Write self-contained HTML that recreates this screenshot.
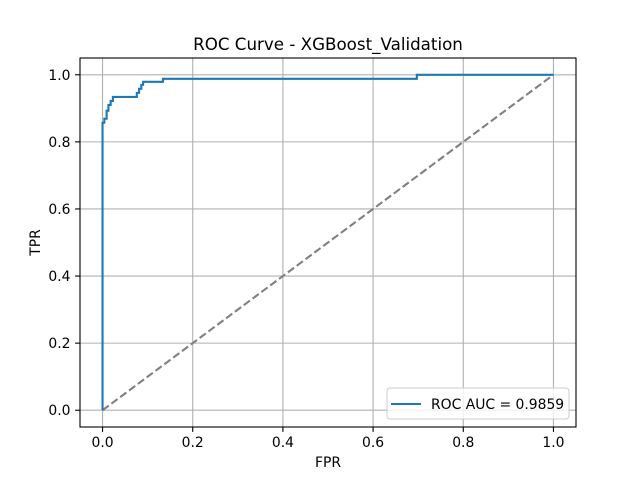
<!DOCTYPE html>
<html><head><meta charset="utf-8"><style>
body{margin:0;background:#fff}
svg{display:block;font-family:"DejaVu Sans","Liberation Sans",sans-serif}
</style></head><body>
<svg id="c" width="640" height="480" viewBox="0 0 640 480">
<rect width="640" height="480" fill="#fff"/>
<g id="grid"></g>
<g id="plot"></g>
<rect x="80" y="58" width="496" height="369" fill="none" stroke="#000" stroke-width="1.1"/>
<g id="ticks"></g>
<text x="328" y="50" font-size="16.7" text-anchor="middle">ROC Curve - XGBoost_Validation</text>
<text x="328" y="467" font-size="13.9" text-anchor="middle">FPR</text>
<text x="0" y="0" font-size="13.9" text-anchor="middle" transform="translate(40,242.5) rotate(-90)">TPR</text>
<g>
<rect x="387" y="388" width="182" height="31" rx="3" fill="#fff" fill-opacity="0.8" stroke="#ccc"/>
<line x1="391" y1="404" x2="421" y2="404" stroke="#1f77b4" stroke-width="2.1"/>
<text x="431" y="409" font-size="13.9">ROC AUC = 0.9859</text>
</g>
</svg>
<script>
const fpr=[0,0,0.004,0.004,0.009,0.009,0.013,0.013,0.018,0.018,0.023,0.023,0.076,0.076,0.081,0.081,0.086,0.086,0.09,0.09,0.134,0.134,0.697,0.697,1];
const tpr=[0,0.857,0.857,0.869,0.869,0.893,0.893,0.91,0.91,0.922,0.922,0.934,0.934,0.946,0.946,0.958,0.958,0.97,0.97,0.979,0.979,0.988,0.988,1,1];
const diagX=[0,1];
const diagY=[0,1];
const tickVals=[0,0.2,0.4,0.6,0.8,1.0];
const tickLabels=["0.0","0.2","0.4","0.6","0.8","1.0"];
const NS="http://www.w3.org/2000/svg";
const X=v=>80+(v+0.05)/1.1*496;
const Y=v=>427-(v+0.05)/1.1*369;
function mk(t,a,p){const e=document.createElementNS(NS,t);for(const k in a)e.setAttribute(k,a[k]);document.getElementById(p).appendChild(e);return e;}
tickVals.forEach((v,i)=>{
 let g=mk('line',{x1:X(v),x2:X(v),y1:58,y2:427,stroke:'#b0b0b0','stroke-width':1.1},'grid');
 
 
 g=mk('line',{x1:80,x2:576,y1:Y(v),y2:Y(v),stroke:'#b0b0b0','stroke-width':1.1},'grid');
 
 
 let t=mk('line',{x1:X(v),x2:X(v),y1:427,y2:431.9,stroke:'#000','stroke-width':1.1},'ticks');
 
 
 t=mk('line',{x1:75.1,x2:80,y1:Y(v),y2:Y(v),stroke:'#000','stroke-width':1.1},'ticks');
 
 
 let l=mk('text',{x:X(v),y:447,'font-size':13.9,'text-anchor':'middle'},'ticks');l.textContent=tickLabels[i];
 
 
 l=mk('text',{x:70.5,y:Y(v)+5,'font-size':13.9,'text-anchor':'end'},'ticks');l.textContent=tickLabels[i];
 
 
});
const d=mk('polyline',{points:diagX.map((v,i)=>X(v)+','+Y(diagY[i])).join(' '),fill:'none',stroke:'#808080','stroke-width':2.1,'stroke-dasharray':'7.7,3.3'},'plot');


const r=mk('polyline',{points:fpr.map((v,i)=>X(v)+','+Y(tpr[i])).join(' '),fill:'none',stroke:'#1f77b4','stroke-width':2.1},'plot');


</script>
</body></html>
